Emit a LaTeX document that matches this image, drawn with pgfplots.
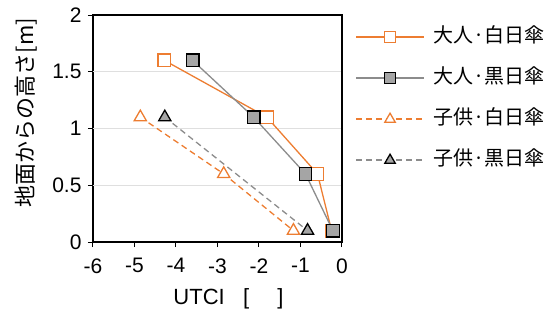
\documentclass[border=0pt]{standalone}
\usepackage{pgfplots}
\pgfplotsset{compat=1.18}
\usepackage{fontspec}
\setmainfont{Liberation Sans}
\newfontfamily\jp{Noto Sans CJK JP}
\definecolor{xlorange}{RGB}{237,125,49}
\definecolor{xlgray}{RGB}{165,165,165}
\definecolor{xlline}{RGB}{140,140,140}
\tikzset{
  awline/.style={draw=xlorange, line width=1.3pt, solid},
  abline/.style={draw=xlline, line width=1.3pt, solid},
  cwline/.style={draw=xlorange, line width=1.3pt, dash pattern=on 6pt off 4pt},
  cbline/.style={draw=xlline, line width=1.3pt, dash pattern=on 6pt off 4pt},
  awmark/.style={mark=square*, mark options={fill=white, draw=xlorange, line width=1.3pt, solid}},
  abmark/.style={mark=square*, mark options={fill=xlgray, draw=black, line width=1.3pt, solid}},
  cwmark/.style={mark=triangle*, mark options={fill=white, draw=xlorange, line width=1.3pt, solid}},
  cbmark/.style={mark=triangle*, mark options={fill=xlgray, draw=black, line width=1.3pt, solid}},
}
\begin{document}
\begin{tikzpicture}[x=1pt,y=1pt]
\path[use as bounding box] (0,0) rectangle (555,322);
\begin{axis}[
  at={(93pt,80pt)}, anchor=south west,
  scale only axis, width=249pt, height=227pt,
  xmin=-6, xmax=0, ymin=0, ymax=2,
  xtick={-6,-5,...,0}, ytick={0,0.5,1,1.5,2},
  yticklabels={0,0.5,1,1.5,2},
  tick align=outside, tick pos=left,
  major tick length=5pt,
  axis line style={line width=1.3pt},
  tick style={black, line width=1pt},
  /pgf/number format/assume math mode=true,
  ticklabel style={font=\fontsize{21}{24}\selectfont},
  xticklabel style={yshift=-8pt},
  yticklabel style={xshift=-3pt},
  xlabel={UTCI\ \ \ [\quad\ ]},
  xlabel style={font=\fontsize{22}{24}\selectfont, yshift=-8pt, xshift=11pt},
  ylabel={\jp 地面からの高さ[m]},
  ylabel style={font=\fontsize{22}{24}\selectfont, yshift=8pt, xshift=16pt},
  legend style={at={(1,1)}, anchor=north west, xshift=13pt, yshift=-13pt,
    draw=none, fill=none, inner sep=0pt, row sep=23pt,
    nodes={inner sep=0pt, text height=14pt, text depth=4pt, font=\jp\fontsize{20}{22}\selectfont},
    column sep=0pt},
  legend cell align=left,
]
\draw[gray!25, line width=0.8pt] (axis cs:-6,0.5) -- (axis cs:0,0.5);
\draw[gray!25, line width=0.8pt] (axis cs:-6,1) -- (axis cs:0,1);
\draw[gray!25, line width=0.8pt] (axis cs:-6,1.5) -- (axis cs:0,1.5);
\addplot[awline, awmark, mark size=6.3pt,
  legend image code/.code={
    \draw[awline, line width=1.7pt] (0pt,0pt) -- (68pt,0pt);
    \path[awmark, mark size=5.5pt] plot coordinates {(34pt,0pt)};
    \node at (76pt,0pt) {};}]
  coordinates {(-4.28,1.6) (-1.81,1.1) (-0.59,0.6) (-0.25,0.1)};
\addlegendentry{大人·白日傘}
\addplot[abline, abmark, mark size=6.3pt,
  legend image code/.code={
    \draw[abline, line width=1.7pt] (0pt,0pt) -- (68pt,0pt);
    \path[abmark, mark size=5.5pt] plot coordinates {(34pt,0pt)};
    \node at (76pt,0pt) {};}]
  coordinates {(-3.6,1.6) (-2.13,1.1) (-0.88,0.6) (-0.22,0.1)};
\addlegendentry{大人·黒日傘}
\addplot[cwline, cwmark, mark size=7pt,
  legend image code/.code={
    \draw[cwline, line width=1.7pt] (0pt,0pt) -- (68pt,0pt);
    \path[cwmark, mark size=6pt] plot coordinates {(34pt,0pt)};
    \node at (76pt,0pt) {};}]
  coordinates {(-4.86,1.1) (-2.85,0.6) (-1.17,0.1)};
\addlegendentry{子供·白日傘}
\addplot[cbline, cbmark, mark size=7pt,
  legend image code/.code={
    \draw[cbline, line width=1.7pt] (0pt,0pt) -- (68pt,0pt);
    \path[cbmark, mark size=6pt] plot coordinates {(34pt,0pt)};
    \node at (76pt,0pt) {};}]
  coordinates {(-4.27,1.1) (-0.83,0.1)};
\addlegendentry{子供·黒日傘}
\draw[line width=1.3pt] (rel axis cs:0,1) -- (rel axis cs:1,1) -- (rel axis cs:1,0);
\end{axis}
\end{tikzpicture}
\end{document}
